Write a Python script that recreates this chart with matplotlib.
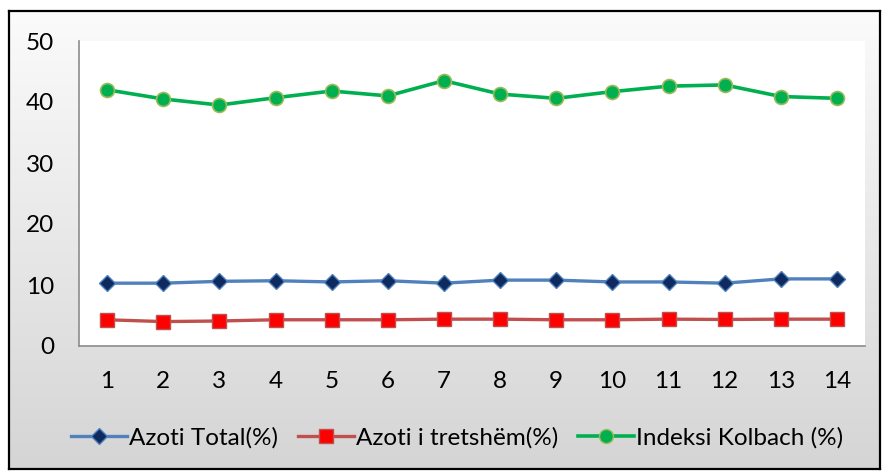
import numpy as np
import matplotlib
matplotlib.use("Agg")
import matplotlib.pyplot as plt
from matplotlib.lines import Line2D

plt.rcParams['font.family'] = ['Lato', 'DejaVu Sans']

# Data
samples = list(range(1, 15))
azoti_total = [10.3, 10.3, 10.6, 10.7, 10.5, 10.7, 10.3, 10.8, 10.8, 10.5, 10.5, 10.3, 11.0, 11.0]
azoti_tretshem = [4.3, 4.0, 4.1, 4.3, 4.3, 4.3, 4.4, 4.4, 4.3, 4.3, 4.4, 4.35, 4.4, 4.4]
indeksi_kolbach = [42.0, 40.5, 39.5, 40.7, 41.8, 41.0, 43.5, 41.3, 40.6, 41.7, 42.6, 42.8, 40.9, 40.6]
y_ticks = [0, 10, 20, 30, 40, 50]
series_labels = ["Azoti Total(%)", "Azoti i tretshëm(%)", "Indeksi Kolbach (%)"]

W, H = 883, 473
FS = 17.5
fig = plt.figure(figsize=(W / 100, H / 100), dpi=100)
fig.patch.set_facecolor("white")

# Chart frame with vertical grey gradient
fx0, fx1 = 9 / W, 880 / W
fy0, fy1 = 1 - 469 / H, 1 - 11 / H
bg = fig.add_axes([fx0, fy0, fx1 - fx0, fy1 - fy0])
grad = np.linspace(0, 1, 256)[:, None]
top_c = np.array([0.985, 0.985, 0.985])
bot_c = np.array([0.835, 0.835, 0.835])
img = top_c[None, None, :] * (1 - grad[:, :, None]) + bot_c[None, None, :] * grad[:, :, None]
bg.imshow(img, aspect="auto", extent=[0, 1, 0, 1], origin="upper")
bg.set_xlim(0, 1)
bg.set_ylim(0, 1)
bg.set_xticks([])
bg.set_yticks([])
for s in bg.spines.values():
    s.set_color("black")
    s.set_linewidth(1.6)

# Plot area
ax = fig.add_axes([79 / W, 1 - 346 / H, (865 - 79) / W, (346 - 41) / H])
ax.set_facecolor("white")
x = np.arange(len(samples))

ax.plot(x, azoti_total, color="#4F81BD", lw=2.4, marker="D", ms=8.5,
        mfc="#0F2A5F", mec="#4F81BD", mew=1.0, zorder=3)
ax.plot(x, azoti_tretshem, color="#C0504D", lw=2.4, marker="s", ms=10,
        mfc="#FF0000", mec="#C0504D", mew=1.0, zorder=3)
ax.plot(x, indeksi_kolbach, color="#00B050", lw=2.6, marker="o", ms=10,
        mfc="#00B050", mec="#9BBB59", mew=1.2, zorder=3)

ax.set_xlim(-0.5, len(samples) - 0.5)
ax.set_ylim(0, 50)
ax.set_yticks(y_ticks)
ax.set_yticklabels([str(v) for v in y_ticks], fontsize=FS)
ax.set_xticks(x)
ax.set_xticklabels([str(s) for s in samples], fontsize=FS)
ax.tick_params(axis="both", length=0, colors="black")
ax.tick_params(axis="y", pad=18)
ax.tick_params(axis="x", pad=18)
for side in ["top", "right"]:
    ax.spines[side].set_visible(False)
for side in ["left", "bottom"]:
    ax.spines[side].set_color("#8C8C8C")
    ax.spines[side].set_linewidth(1.2)

handles = [
    Line2D([], [], color="#4F81BD", lw=2.4, marker="D", ms=8.5, mfc="#0F2A5F", mec="#4F81BD"),
    Line2D([], [], color="#C0504D", lw=2.4, marker="s", ms=10, mfc="#FF0000", mec="#C0504D"),
    Line2D([], [], color="#00B050", lw=2.6, marker="o", ms=10, mfc="#00B050", mec="#9BBB59"),
]
fig.legend(handles, series_labels, loc="center", bbox_to_anchor=(457 / W, 1 - 438 / H),
           ncol=3, frameon=False, fontsize=FS, handlelength=2.3, handletextpad=0.1,
           columnspacing=0.8)

fig.savefig("out.png", dpi=100)
